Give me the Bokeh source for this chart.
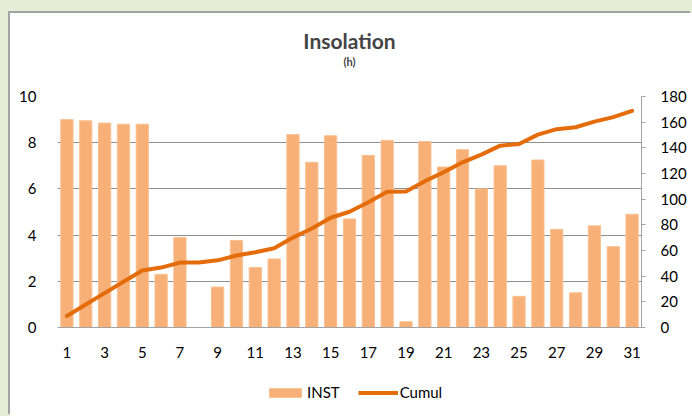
from bokeh.plotting import figure
from bokeh.layouts import column
from bokeh.models import (Range1d, LinearAxis, FixedTicker, Legend, LegendItem,
                          Title, GlobalInlineStyleSheet, ColumnDataSource)
from bokeh.embed import file_html
from bokeh.resources import INLINE

days = list(range(1, 32))
inst = [9.0, 8.95, 8.85, 8.8, 8.8, 2.3, 3.9, 0.0, 1.75, 3.77, 2.6, 2.97,
        8.35, 7.15, 8.3, 4.7, 7.45, 8.1, 0.25, 8.05, 6.95, 7.7, 6.0, 7.0,
        1.35, 7.25, 4.25, 1.5, 4.4, 3.5, 4.9]
cumul = [9.0, 17.95, 26.8, 35.6, 44.4, 46.7, 50.6, 50.6, 52.35, 56.1, 58.7,
         61.7, 70.05, 77.2, 85.5, 90.2, 97.65, 105.75, 106.0, 114.05, 121.0,
         128.7, 134.7, 141.7, 143.05, 150.3, 154.55, 156.05, 160.45, 163.95,
         168.85]
x_ticks = list(range(1, 32, 2))
left_ticks = [0, 2, 4, 6, 8, 10]
right_ticks = list(range(0, 181, 20))

FONT = "Lato"
GRID = "#8f8f8f"
AXIS = "#a3a3a3"
BAR_FILL = "#f7b078"
BAR_LINE = "#fac090"
LINE_COL = "#e46c0a"

page_css = """
html { background: #e5edd7; overflow: hidden; }
body { margin: 0; overflow: hidden; }
"""

src = ColumnDataSource(dict(day=days, inst=inst, cumul=cumul))

p = figure(frame_width=584, frame_height=231,
           x_range=Range1d(0.5, 31.5), y_range=Range1d(0, 10),
           output_backend="svg", toolbar_location=None,
           min_border_left=47, min_border_right=51,
           min_border_top=83, min_border_bottom=37,
           border_fill_color="white", background_fill_color="white",
           outline_line_color=None, title="Insolation")
p.extra_y_ranges = {"cum": Range1d(0, 180)}

# titles (first added 'above' item sits nearest the frame)
p.title.text_font = FONT
p.title.text_font_size = "21px"
p.title.text_font_style = "bold"
p.title.align = "center"
p.title.standoff = 0
p.add_layout(Title(text=" ", text_font=FONT, text_font_size="10px",
                   align="center", standoff=15), "above")
p.add_layout(Title(text="(h)", text_font=FONT, text_font_size="11px",
                   text_font_style="bold", align="center", standoff=0), "above")

# grid
p.xgrid.grid_line_color = None
p.ygrid.grid_line_color = GRID
p.ygrid.grid_line_width = 1
p.ygrid.ticker = FixedTicker(ticks=left_ticks)

bars = p.vbar(x="day", top="inst", width=0.65, source=src,
              fill_color=BAR_FILL, line_color=BAR_LINE, line_width=1)
line = p.line(x="day", y="cumul", source=src, y_range_name="cum",
              line_color=LINE_COL, line_width=4, line_join="round",
              line_cap="round")

# left axis
ya = p.yaxis[0]
ya.ticker = FixedTicker(ticks=left_ticks)
ya.axis_line_color = None
ya.major_tick_line_color = None
ya.major_tick_out = 0
ya.major_tick_in = 0
ya.minor_tick_line_color = None
ya.major_label_standoff = 21
ya.major_label_text_font = FONT
ya.major_label_text_font_size = "15px"
ya.major_label_text_color = "#000000"

# bottom axis
xa = p.xaxis[0]
xa.ticker = FixedTicker(ticks=x_ticks)
xa.axis_line_color = AXIS
xa.axis_line_width = 1
xa.major_tick_line_color = None
xa.major_tick_out = 0
xa.major_tick_in = 0
xa.minor_tick_line_color = None
xa.major_label_standoff = 19
xa.major_label_text_font = FONT
xa.major_label_text_font_size = "15px"
xa.major_label_text_color = "#000000"

# right axis
ra = LinearAxis(y_range_name="cum", ticker=FixedTicker(ticks=right_ticks))
ra.axis_line_color = AXIS
ra.major_tick_line_color = AXIS
ra.major_tick_in = 0
ra.major_tick_out = 4
ra.minor_tick_line_color = None
ra.major_label_standoff = 15
ra.major_label_text_font = FONT
ra.major_label_text_font_size = "15px"
ra.major_label_text_color = "#000000"
p.add_layout(ra, "right")

# legend strip below the chart (hidden renderers only supply the swatches)
lg = figure(width=682, height=52, x_range=Range1d(0.5, 31.5),
            y_range=Range1d(0, 10),
            output_backend="svg", toolbar_location=None,
            x_axis_location=None, y_axis_location=None, min_border=0,
            border_fill_color="white", background_fill_color="white",
            outline_line_color=None)
lg.grid.grid_line_color = None
lg_bar = lg.vbar(x="day", top="inst", width=0.65, source=src,
                 fill_color=BAR_FILL, line_color=BAR_LINE, line_width=1,
                 visible=False)
lg_line = lg.line(x="day", y="cumul", source=src, line_color=LINE_COL,
                  line_width=4, visible=False)
legend = Legend(items=[LegendItem(label="INST", renderers=[lg_bar]),
                       LegendItem(label="Cumul", renderers=[lg_line])],
                orientation="horizontal", location=(208, 15),
                glyph_width=40, glyph_height=11, label_standoff=2, spacing=18,
                padding=0, margin=0, border_line_color=None,
                background_fill_alpha=0, inactive_fill_alpha=0,
                label_text_font=FONT,
                label_text_font_size="15px", label_text_color="#000000")
lg.add_layout(legend)

page = column(p, lg, spacing=0,
              styles={"margin-left": "10px", "margin-top": "13px",
                      "box-shadow": "-2px -2px 0 0 #a3a3a3",
                      "background": "#ffffff"},
              stylesheets=[GlobalInlineStyleSheet(css=page_css)])

open("out.html", "w").write(file_html(page, INLINE))
